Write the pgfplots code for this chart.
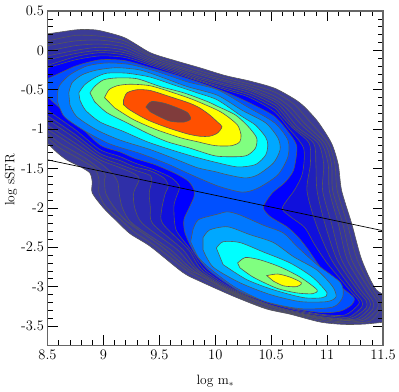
\documentclass[border=0pt]{standalone}
\usepackage{pgfplots}
\pgfplotsset{compat=1.18}
\definecolor{c1}{HTML}{3C3C96}
\definecolor{c2}{HTML}{39399A}
\definecolor{c3}{HTML}{3535A0}
\definecolor{c4}{HTML}{2F2FA8}
\definecolor{c5}{HTML}{2929B0}
\definecolor{c6}{HTML}{2020BC}
\definecolor{c7}{HTML}{1010DC}
\definecolor{c8}{HTML}{0000FF}
\definecolor{c9}{HTML}{0050FF}
\definecolor{c10}{HTML}{0078FF}
\definecolor{c11}{HTML}{00A8FF}
\definecolor{c12}{HTML}{00FFFF}
\definecolor{c13}{HTML}{80FF80}
\definecolor{c14}{HTML}{FFFF00}
\definecolor{c15}{HTML}{FF5000}
\definecolor{c16}{HTML}{803C3C}
\pgfplotsset{lev/.style={fill=#1,draw=black!66,line width=0.6pt,smooth,tension=0.45,no markers,forget plot}}
\begin{document}
\begin{tikzpicture}
\useasboundingbox (0,0) rectangle (399pt,391pt);
\begin{axis}[
    at={(47.5pt,45.7pt)},
    anchor=south west,
    scale only axis,
    width=335.5pt,
    height=334.3pt,
    xmin=8.5, xmax=11.5,
    ymin=-3.745, ymax=0.5,
    xtick={8.5,9,9.5,10,10.5,11,11.5},
    xticklabels={8.5,9,9.5,10,10.5,11,11.5},
    ytick={-3.5,-3,-2.5,-2,-1.5,-1,-0.5,0,0.5},
    yticklabels={-3.5,-3,-2.5,-2,-1.5,-1,-0.5,0,0.5},
    minor x tick num=4,
    minor y tick num=4,
    tick align=inside,
    major tick length=10pt,
    minor tick length=5pt,
    tick style={black,line width=0.6pt},
    axis line style={black!60,line width=1.3pt},
    tick label style={font=\fontsize{14.5}{16}\selectfont},
    x tick label style={yshift=-1.5pt},
    label style={font=\fontsize{13.5}{15}\selectfont},
    xlabel={log m$_*$},
    ylabel={log sSFR},
    xlabel style={at={(axis description cs:0.5,0)},anchor=north,yshift=-26pt},
    ylabel style={at={(axis description cs:0,0.495)},anchor=center,yshift=36.5pt},
    axis on top,
  ]
% outer levels, outermost first
\addplot[lev=c1] coordinates {(8.43,.21)(8.5,.21)(8.75,.26)(8.86,.265)(8.97,.25)(9.19,.16)(9.42,-.03)(9.64,-.13)(9.86,-.22)(10.09,-.32)(10.31,-.39)(10.53,-.48)(10.71,-.62)(10.80,-.72)(10.92,-.91)(11.04,-1.18)(11.10,-1.45)(11.13,-1.78)(11.22,-2.20)(11.31,-2.66)(11.44,-3.04)(11.61,-3.17)(11.61,-3.41)(11.38,-3.47)(11.16,-3.48)(10.94,-3.45)(10.67,-3.35)(10.45,-3.28)(10.16,-3.12)(9.86,-2.93)(9.71,-2.82)(9.42,-2.49)(9.24,-2.33)(9.12,-2.17)(9.00,-2.00)(8.90,-1.81)(8.90,-1.67)(8.88,-1.56)(8.81,-1.49)(8.67,-1.39)(8.58,-1.29)(8.5,-1.18)(8.43,-1.11)} -- cycle;
\addplot[lev=c2] coordinates {(8.43,.12)(8.5,.12)(8.75,.19)(8.97,.18)(9.19,.12)(9.42,-.06)(9.64,-.16)(9.86,-.26)(10.09,-.35)(10.31,-.43)(10.53,-.53)(10.70,-.68)(10.83,-.88)(11.01,-1.18)(11.07,-1.45)(11.09,-1.78)(11.18,-2.20)(11.27,-2.66)(11.41,-3.04)(11.48,-3.19)(11.48,-3.28)(11.38,-3.44)(11.16,-3.46)(10.94,-3.43)(10.67,-3.34)(10.45,-3.27)(10.16,-3.10)(9.86,-2.89)(9.74,-2.79)(9.48,-2.50)(9.28,-2.31)(9.17,-2.17)(9.02,-1.98)(8.96,-1.81)(8.96,-1.64)(8.92,-1.50)(8.75,-1.35)(8.61,-1.24)(8.5,-1.11)(8.43,-1.04)} -- cycle;
\addplot[lev=c3] coordinates {(8.43,.06)(8.5,.06)(8.75,.12)(8.97,.13)(9.19,.08)(9.42,-.08)(9.64,-.19)(9.86,-.29)(10.09,-.38)(10.31,-.46)(10.53,-.58)(10.67,-.72)(10.80,-.93)(10.98,-1.18)(11.04,-1.45)(11.05,-1.78)(11.14,-2.20)(11.22,-2.66)(11.38,-3.04)(11.45,-3.19)(11.45,-3.28)(11.34,-3.42)(11.16,-3.45)(10.94,-3.41)(10.67,-3.33)(10.45,-3.26)(10.16,-3.09)(9.86,-2.85)(9.77,-2.79)(9.53,-2.50)(9.21,-2.17)(9.09,-1.98)(9.02,-1.81)(9.01,-1.64)(9.01,-1.56)(8.84,-1.37)(8.61,-1.18)(8.5,-1.05)(8.43,-.97)} -- cycle;
\addplot[lev=c4] coordinates {(8.43,-.01)(8.5,-.01)(8.75,.06)(8.97,.08)(9.19,.04)(9.42,-.11)(9.64,-.21)(9.86,-.31)(10.09,-.40)(10.31,-.49)(10.53,-.62)(10.64,-.74)(10.78,-.96)(10.95,-1.18)(11.01,-1.45)(11.02,-1.78)(11.10,-2.20)(11.18,-2.66)(11.34,-3.04)(11.41,-3.19)(11.41,-3.28)(11.31,-3.41)(11.16,-3.43)(10.94,-3.40)(10.67,-3.32)(10.45,-3.24)(10.10,-3.04)(9.80,-2.79)(9.60,-2.53)(9.26,-2.20)(9.17,-2.00)(9.14,-1.81)(9.13,-1.68)(9.09,-1.58)(8.97,-1.43)(8.75,-1.23)(8.5,-1.00)(8.43,-.92)} -- cycle;
\addplot[lev=c5] coordinates {(8.43,-.07)(8.5,-.07)(8.75,0)(8.97,.04)(9.19,0)(9.42,-.13)(9.64,-.23)(9.86,-.34)(10.09,-.43)(10.31,-.51)(10.53,-.65)(10.62,-.77)(10.74,-.98)(10.92,-1.18)(10.97,-1.45)(10.96,-1.78)(11.04,-2.20)(11.13,-2.66)(11.30,-3.04)(11.38,-3.18)(11.38,-3.27)(11.28,-3.40)(11.16,-3.42)(10.94,-3.39)(10.67,-3.32)(10.45,-3.23)(10.11,-3.04)(9.83,-2.79)(9.66,-2.53)(9.35,-2.20)(9.28,-2.00)(9.27,-1.81)(9.32,-1.64)(9.28,-1.57)(9.15,-1.49)(8.97,-1.39)(8.75,-1.18)(8.5,-.95)(8.43,-.87)} -- cycle;
\addplot[lev=c6] coordinates {(8.43,-.12)(8.5,-.12)(8.75,-.04)(8.97,0)(9.19,-.03)(9.42,-.15)(9.64,-.25)(9.86,-.36)(10.09,-.45)(10.31,-.54)(10.53,-.69)(10.60,-.79)(10.71,-.98)(10.88,-1.18)(10.90,-1.45)(10.91,-1.78)(10.98,-2.20)(11.09,-2.66)(11.27,-3.04)(11.35,-3.18)(11.35,-3.27)(11.25,-3.38)(11.16,-3.41)(10.94,-3.38)(10.67,-3.31)(10.45,-3.22)(10.13,-3.04)(9.85,-2.79)(9.71,-2.53)(9.44,-2.20)(9.42,-2.00)(9.41,-1.81)(9.43,-1.67)(9.42,-1.59)(9.28,-1.52)(9.15,-1.45)(8.97,-1.35)(8.75,-1.12)(8.5,-.88)(8.43,-.81)} -- cycle;
\addplot[lev=c7] coordinates {(8.43,-.19)(8.5,-.19)(8.75,-.08)(8.97,-.03)(9.19,-.06)(9.42,-.17)(9.64,-.27)(9.86,-.38)(10.09,-.48)(10.31,-.57)(10.53,-.73)(10.58,-.81)(10.69,-.98)(10.84,-1.18)(10.85,-1.45)(10.82,-1.78)(10.90,-2.20)(11.04,-2.66)(11.23,-3.04)(11.31,-3.18)(11.31,-3.26)(11.22,-3.37)(11.16,-3.39)(10.94,-3.36)(10.67,-3.30)(10.45,-3.21)(10.15,-3.04)(9.88,-2.79)(9.76,-2.53)(9.53,-2.20)(9.52,-2.03)(9.55,-1.83)(9.58,-1.72)(9.54,-1.62)(9.42,-1.53)(9.28,-1.48)(9.15,-1.40)(8.97,-1.31)(8.75,-1.07)(8.5,-.83)(8.43,-.76)} -- cycle;
\addplot[lev=c8] coordinates {(8.43,-.22)(8.5,-.22)(8.75,-.12)(8.97,-.07)(9.19,-.09)(9.42,-.19)(9.64,-.29)(9.86,-.39)(10.09,-.50)(10.31,-.60)(10.53,-.78)(10.65,-.98)(10.79,-1.24)(10.78,-1.56)(10.71,-1.77)(10.60,-2.00)(10.67,-2.11)(10.80,-2.25)(10.89,-2.47)(11.01,-2.72)(11.20,-3.04)(11.28,-3.17)(11.28,-3.23)(11.16,-3.36)(10.94,-3.35)(10.67,-3.28)(10.45,-3.19)(10.17,-3.04)(9.91,-2.79)(9.78,-2.53)(9.65,-2.28)(9.63,-1.99)(9.65,-1.87)(9.68,-1.73)(9.61,-1.62)(9.46,-1.52)(9.28,-1.43)(9.15,-1.35)(8.97,-1.26)(8.75,-1.01)(8.5,-.76)(8.43,-.68)} -- cycle;
\addplot[lev=c9] coordinates {(8.43,-.36)(8.5,-.36)(8.75,-.20)(8.97,-.12)(9.19,-.13)(9.42,-.22)(9.64,-.31)(9.86,-.41)(10.09,-.53)(10.31,-.67)(10.53,-.84)(10.67,-1.07)(10.73,-1.23)(10.70,-1.52)(10.62,-1.68)(10.51,-1.81)(10.43,-1.99)(10.49,-2.11)(10.64,-2.24)(10.74,-2.37)(10.83,-2.53)(10.96,-2.79)(11.13,-3.01)(11.24,-3.14)(11.22,-3.23)(11.12,-3.31)(10.96,-3.33)(10.67,-3.27)(10.36,-3.14)(10.19,-3.04)(9.94,-2.79)(9.81,-2.56)(9.73,-2.32)(9.72,-2.15)(9.77,-1.99)(9.81,-1.86)(9.81,-1.77)(9.76,-1.66)(9.64,-1.56)(9.46,-1.45)(9.28,-1.37)(9.15,-1.29)(8.97,-1.20)(8.75,-.91)(8.5,-.59)(8.43,-.50)} -- cycle;
% upper peak
\addplot[lev=c10] coordinates {(8.59,-.54)(8.61,-.44)(8.70,-.31)(8.85,-.20)(9.03,-.16)(9.24,-.18)(9.48,-.27)(9.75,-.40)(10.02,-.50)(10.29,-.72)(10.53,-.92)(10.65,-1.14)(10.65,-1.35)(10.56,-1.58)(10.38,-1.75)(10.24,-1.80)(10.02,-1.72)(9.77,-1.57)(9.57,-1.44)(9.33,-1.31)(9.06,-1.19)(8.83,-1.02)(8.65,-.84)(8.59,-.65)} -- cycle;
\addplot[lev=c11] coordinates {(8.69,-.54)(8.72,-.41)(8.81,-.31)(8.94,-.25)(9.12,-.22)(9.33,-.25)(9.54,-.35)(9.75,-.46)(10.02,-.57)(10.24,-.76)(10.45,-.92)(10.56,-1.11)(10.58,-1.26)(10.52,-1.43)(10.38,-1.58)(10.27,-1.62)(10.11,-1.58)(10.00,-1.54)(9.84,-1.49)(9.66,-1.39)(9.42,-1.26)(9.15,-1.14)(8.94,-1.01)(8.76,-.84)(8.70,-.69)} -- cycle;
\addplot[lev=c12] coordinates {(8.78,-.54)(8.83,-.44)(8.92,-.35)(9.03,-.29)(9.21,-.29)(9.42,-.34)(9.63,-.44)(9.84,-.54)(10.02,-.63)(10.24,-.84)(10.36,-.95)(10.45,-1.10)(10.47,-1.20)(10.45,-1.33)(10.36,-1.45)(10.20,-1.48)(10.00,-1.42)(9.81,-1.35)(9.60,-1.26)(9.39,-1.16)(9.18,-1.03)(8.97,-.91)(8.84,-.76)(8.79,-.63)} -- cycle;
\addplot[lev=c13] coordinates {(8.88,-.54)(8.92,-.46)(9.00,-.375)(9.12,-.35)(9.30,-.36)(9.51,-.46)(9.72,-.54)(9.93,-.65)(10.02,-.71)(10.18,-.82)(10.29,-.96)(10.37,-1.11)(10.36,-1.24)(10.29,-1.33)(10.20,-1.35)(10.00,-1.34)(9.77,-1.24)(9.57,-1.16)(9.39,-1.05)(9.21,-.92)(9.03,-.79)(8.92,-.65)} -- cycle;
\addplot[lev=c14] coordinates {(9.01,-.60)(9.05,-.50)(9.12,-.45)(9.24,-.43)(9.42,-.45)(9.63,-.54)(9.81,-.63)(10.02,-.76)(10.11,-.84)(10.20,-.95)(10.23,-1.07)(10.22,-1.16)(10.15,-1.21)(10.00,-1.21)(9.84,-1.16)(9.69,-1.11)(9.48,-1.01)(9.27,-.88)(9.10,-.73)} -- cycle;
\addplot[lev=c15] coordinates {(9.18,-.63)(9.21,-.54)(9.30,-.50)(9.42,-.51)(9.60,-.59)(9.77,-.67)(9.86,-.73)(9.95,-.82)(10.02,-.91)(10.06,-.97)(10.02,-1.05)(9.95,-1.09)(9.86,-1.09)(9.75,-1.06)(9.57,-.98)(9.39,-.88)(9.24,-.76)(9.18,-.69)} -- cycle;
\addplot[lev=c16] coordinates {(9.38,-.72)(9.43,-.65)(9.54,-.67)(9.66,-.73)(9.75,-.79)(9.78,-.87)(9.72,-.91)(9.60,-.90)(9.50,-.84)(9.42,-.78)} -- cycle;
% lower peak
\addplot[lev=c10] coordinates {(9.80,-2.28)(9.85,-2.15)(10.02,-2.08)(10.11,-2.05)(10.22,-2.09)(10.43,-2.22)(10.61,-2.32)(10.73,-2.49)(10.91,-2.72)(11.12,-2.95)(11.14,-3.13)(11.05,-3.26)(10.76,-3.28)(10.45,-3.19)(10.18,-3.01)(9.97,-2.79)(9.85,-2.63)(9.78,-2.43)} -- cycle;
\addplot[lev=c11] coordinates {(9.89,-2.38)(9.95,-2.28)(10.11,-2.24)(10.31,-2.34)(10.52,-2.44)(10.70,-2.62)(10.91,-2.79)(11.05,-3.00)(11.08,-3.13)(11.00,-3.19)(10.76,-3.19)(10.49,-3.10)(10.22,-2.95)(9.98,-2.75)(9.89,-2.53)} -- cycle;
\addplot[lev=c12] coordinates {(10.01,-2.51)(10.07,-2.43)(10.22,-2.44)(10.43,-2.56)(10.67,-2.70)(10.87,-2.88)(11.00,-3.08)(10.96,-3.14)(10.79,-3.14)(10.52,-3.04)(10.28,-2.91)(10.07,-2.72)} -- cycle;
\addplot[lev=c13] coordinates {(10.20,-2.70)(10.27,-2.63)(10.40,-2.66)(10.58,-2.75)(10.76,-2.88)(10.91,-3.04)(10.87,-3.09)(10.73,-3.08)(10.55,-3.02)(10.34,-2.88)(10.22,-2.76)} -- cycle;
\addplot[lev=c14] coordinates {(10.46,-2.86)(10.56,-2.84)(10.67,-2.88)(10.77,-2.95)(10.73,-3.00)(10.61,-2.99)(10.52,-2.93)} -- cycle;
% separating line
\addplot[black,line width=0.7pt,forget plot] coordinates {(8.5,-1.39)(11.5,-2.29)};
\end{axis}
\end{tikzpicture}
\end{document}
